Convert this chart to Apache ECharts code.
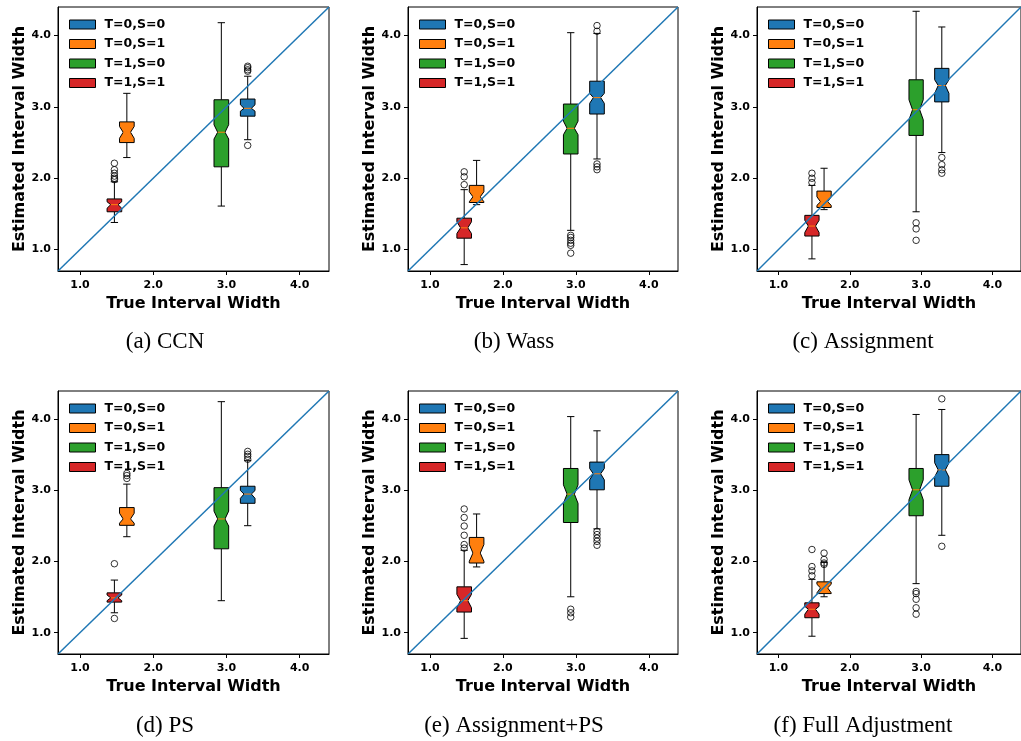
<!DOCTYPE html>
<html>
<head>
<meta charset="utf-8">
<script src="https://cdn.jsdelivr.net/npm/echarts@6/dist/echarts.min.js"></script>
<style>
  html, body { margin: 0; padding: 0; background: #fff; }
  #chart { width: 1021px; height: 741px; }
</style>
</head>
<body>
<div id="chart"></div>
<script>
// groups in legend order, with their true interval width (x position)
const groupNames = ['T=0,S=0', 'T=0,S=1', 'T=1,S=0', 'T=1,S=1'];
const truePositions = [3.29, 1.64, 2.93, 1.47];
const tickValues = [1, 2, 3, 4];
const axisMin = 0.7;
const axisMax = 4.4;
const panelCaptions = ['(a) CCN', '(b) Wass', '(c) Assignment', '(d) PS', '(e) Assignment+PS', '(f) Full Adjustment'];

// box = [whiskerLow, q1, notchLow, median, notchHigh, q3, whiskerHigh], one per group
const ccnBoxes = [
  [2.54, 2.87, 2.94, 2.98, 3.03, 3.11, 3.43],
  [2.29, 2.50, 2.56, 2.645, 2.725, 2.79, 3.19],
  [1.61, 2.16, 2.55, 2.645, 2.75, 3.10, 4.18],
  [1.38, 1.53, 1.58, 1.63, 1.67, 1.71, 1.95]
];
const ccnOutliers = [[3.57, 3.55, 3.52, 3.50, 2.46], [], [], [2.21, 2.12, 2.07, 2.03, 2.00, 1.98]];

const wassBoxes = [
  [2.27, 2.90, 3.05, 3.13, 3.19, 3.36, 4.03],
  [1.63, 1.66, 1.67, 1.74, 1.81, 1.90, 2.25],
  [1.27, 2.34, 2.61, 2.70, 2.80, 3.04, 4.04],
  [0.79, 1.16, 1.225, 1.305, 1.39, 1.44, 1.84]
];
const wassOutliers = [[4.14, 4.06, 2.20, 2.16, 2.12], [], [1.20, 1.17, 1.13, 1.09, 1.06, 0.95], [2.09, 2.02, 1.91]];

const assignBoxes = [
  [2.36, 3.07, 3.19, 3.30, 3.38, 3.54, 4.12],
  [1.56, 1.59, 1.62, 1.67, 1.74, 1.82, 2.14],
  [1.53, 2.60, 2.82, 2.96, 3.10, 3.38, 4.34],
  [0.87, 1.19, 1.24, 1.33, 1.41, 1.48, 1.90]
];
const assignOutliers = [[2.29, 2.19, 2.12, 2.07], [], [1.375, 1.29, 1.13], [2.07, 2.00, 1.94]];

const psBoxes = [
  [2.505, 2.82, 2.89, 2.95, 3.00, 3.06, 3.42],
  [2.35, 2.51, 2.54, 2.60, 2.68, 2.76, 3.09],
  [1.45, 2.18, 2.50, 2.60, 2.71, 3.04, 4.25],
  [1.28, 1.43, 1.45, 1.49, 1.53, 1.56, 1.74]
];
const psOutliers = [[3.55, 3.51, 3.48, 3.44], [3.24, 3.21, 3.17], [], [1.97, 1.20]];

const assignPsBoxes = [
  [2.46, 3.01, 3.15, 3.235, 3.31, 3.40, 3.84],
  [1.925, 1.98, 2.005, 2.12, 2.24, 2.34, 2.67],
  [1.505, 2.55, 2.82, 2.95, 3.08, 3.31, 4.04],
  [0.92, 1.29, 1.35, 1.45, 1.54, 1.645, 2.16]
];
const assignPsOutliers = [[2.425, 2.38, 2.33, 2.285, 2.23], [], [1.33, 1.28, 1.22], [2.74, 2.62, 2.50, 2.37, 2.24, 2.19]];

const fullBoxes = [
  [2.37, 3.06, 3.19, 3.29, 3.39, 3.505, 4.14],
  [1.505, 1.55, 1.56, 1.63, 1.68, 1.715, 1.99],
  [1.69, 2.645, 2.87, 3.01, 3.15, 3.31, 4.07],
  [0.95, 1.21, 1.26, 1.33, 1.37, 1.42, 1.75]
];
const fullOutliers = [[4.29, 2.215], [2.12, 2.03, 1.98, 1.96], [1.58, 1.55, 1.47, 1.35, 1.26], [2.17, 1.93, 1.87, 1.80]];

const panelBoxes = [ccnBoxes, wassBoxes, assignBoxes, psBoxes, assignPsBoxes, fullBoxes];
const panelOutliers = [ccnOutliers, wassOutliers, assignOutliers, psOutliers, assignPsOutliers, fullOutliers];

// look
const colors = ['#1f77b4', '#ff7f0e', '#2ca02c', '#d62728'];
const BOX_WIDTH = 0.2;
const FONT = 'DejaVu Sans';
const gridBoxes = [
  { left: 58, top: 7, width: 271, height: 264 },
  { left: 408, top: 7, width: 270, height: 264 },
  { left: 757, top: 7, width: 271, height: 264 },
  { left: 58, top: 391, width: 271, height: 263 },
  { left: 408, top: 391, width: 270, height: 263 },
  { left: 757, top: 391, width: 271, height: 263 }
];
const captionPos = [[165, 342], [514, 342], [863, 342], [165, 726], [514, 726], [863, 726]];

function seg(a, b, color) {
  return {
    type: 'line',
    shape: { x1: a[0], y1: a[1], x2: b[0], y2: b[1] },
    style: { stroke: color || '#000', lineWidth: 1 }
  };
}

function renderNotchBox(params, api) {
  const x = api.value(0);
  const wLo = api.value(1), q1 = api.value(2), nLo = api.value(3), med = api.value(4);
  const nHi = api.value(5), q3 = api.value(6), wHi = api.value(7);
  const hw = BOX_WIDTH / 2;
  const pt = (dx, y) => api.coord([x + dx, y]);
  return {
    type: 'group',
    children: [
      seg(pt(0, q1), pt(0, wLo)),
      seg(pt(0, q3), pt(0, wHi)),
      seg(pt(-hw / 2, wLo), pt(hw / 2, wLo)),
      seg(pt(-hw / 2, wHi), pt(hw / 2, wHi)),
      {
        type: 'polygon',
        shape: {
          points: [
            pt(-hw, q1), pt(hw, q1), pt(hw, nLo), pt(hw / 2, med), pt(hw, nHi),
            pt(hw, q3), pt(-hw, q3), pt(-hw, nHi), pt(-hw / 2, med), pt(-hw, nLo)
          ]
        },
        style: { fill: api.visual('color'), stroke: '#000', lineWidth: 1 }
      },
      seg(pt(-hw / 2, med), pt(hw / 2, med), '#ff7f0e')
    ]
  };
}

const labelStyle = { fontFamily: FONT, fontWeight: 'bold', color: '#000' };
const grids = [], xAxes = [], yAxes = [], legends = [], series = [], graphics = [];

gridBoxes.forEach((g, i) => {
  grids.push(Object.assign({ show: true, borderColor: '#000', borderWidth: 1, backgroundColor: 'transparent' }, g));

  const axisCommon = {
    gridIndex: i,
    type: 'value',
    min: axisMin,
    max: axisMax,
    nameLocation: 'middle',
    nameTextStyle: Object.assign({ fontSize: 16 }, labelStyle),
    axisLine: { show: true, onZero: false, lineStyle: { color: '#000', width: 1 } },
    axisTick: { show: true, length: 4, customValues: tickValues, lineStyle: { color: '#000', width: 1 } },
    axisLabel: Object.assign({ customValues: tickValues, fontSize: 11, formatter: v => v.toFixed(1) }, labelStyle),
    splitLine: { show: false }
  };
  xAxes.push(Object.assign({}, axisCommon, {
    name: 'True Interval Width',
    nameGap: 25,
    axisLabel: Object.assign({}, axisCommon.axisLabel, { margin: 9 })
  }));
  yAxes.push(Object.assign({}, axisCommon, {
    name: 'Estimated Interval Width',
    nameGap: 30,
    axisLabel: Object.assign({}, axisCommon.axisLabel, { margin: 7 })
  }));

  legends.push({
    orient: 'vertical',
    left: g.left + 11,
    top: g.top + 11,
    padding: 0,
    itemWidth: 26,
    itemHeight: 9,
    itemGap: 6.5,
    selectedMode: false,
    textStyle: Object.assign({ fontSize: 12.5, padding: [0, 0, 0, 4] }, labelStyle),
    data: groupNames.map((n, k) => ({
      name: n,
      icon: 'rect',
      itemStyle: { color: colors[k], borderColor: '#000', borderWidth: 1 }
    }))
  });

  groupNames.forEach((n, k) => {
    series.push({
      type: 'custom',
      name: n,
      xAxisIndex: i,
      yAxisIndex: i,
      itemStyle: { color: colors[k] },
      encode: { x: 0, y: [1, 2, 3, 4, 5, 6, 7] },
      data: [[truePositions[k]].concat(panelBoxes[i][k])],
      renderItem: renderNotchBox,
      silent: true,
      z: 2
    });
  });

  const fliers = [];
  panelOutliers[i].forEach((list, k) => list.forEach(v => fliers.push([truePositions[k], v])));
  series.push({
    type: 'scatter',
    xAxisIndex: i,
    yAxisIndex: i,
    data: fliers,
    symbol: 'circle',
    symbolSize: 6.5,
    itemStyle: { color: 'rgba(255,255,255,0)', borderColor: '#000', borderWidth: 1 },
    silent: true,
    z: 3
  });

  series.push({
    type: 'line',
    xAxisIndex: i,
    yAxisIndex: i,
    data: [[axisMin, axisMin], [axisMax, axisMax]],
    symbol: 'none',
    lineStyle: { color: '#1f77b4', width: 1.5 },
    silent: true,
    z: 4
  });

  graphics.push({
    type: 'text',
    x: captionPos[i][0],
    y: captionPos[i][1],
    style: {
      text: panelCaptions[i],
      fontFamily: 'Liberation Serif',
      fontSize: 23,
      fill: '#000',
      align: 'center',
      verticalAlign: 'middle'
    }
  });
});

const chart = echarts.init(document.getElementById('chart'));
chart.setOption({
  animation: false,
  backgroundColor: '#fff',
  grid: grids,
  xAxis: xAxes,
  yAxis: yAxes,
  legend: legends,
  series: series,
  graphic: graphics
});
</script>
</body>
</html>
